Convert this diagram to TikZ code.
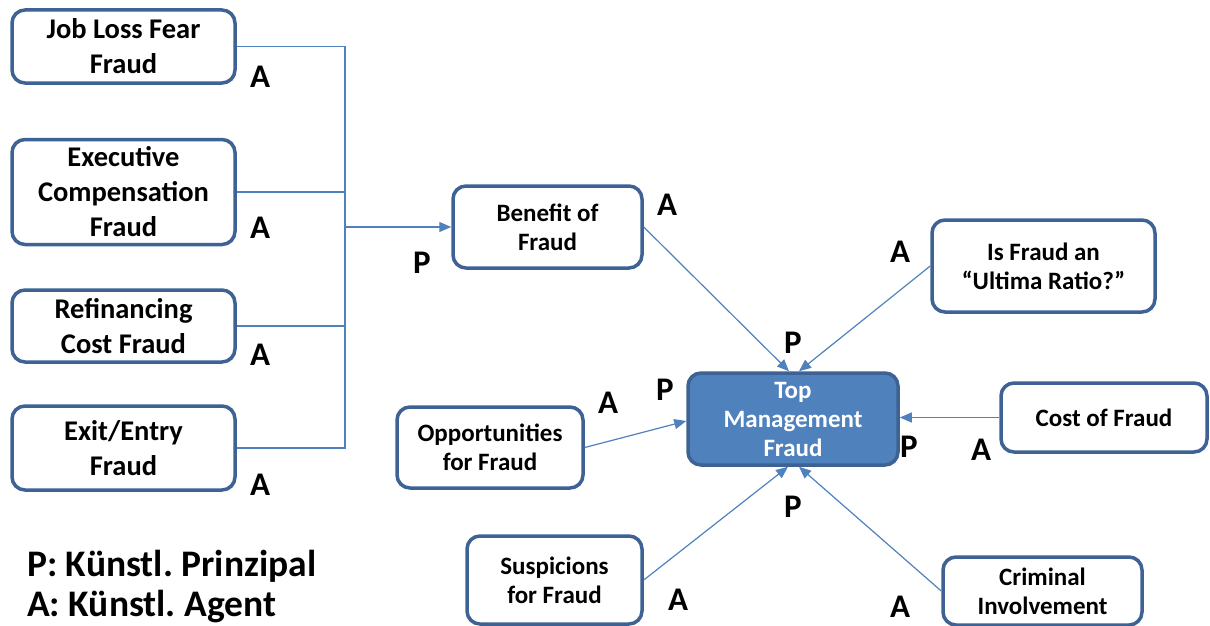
\documentclass[tikz,border=0pt]{standalone}
\usepackage{fontspec}
\setmainfont{Carlito}
\usetikzlibrary{arrows.meta,calc}
\definecolor{bordc}{HTML}{3E6293}
\definecolor{linec}{HTML}{4F81BD}
\definecolor{fillc}{HTML}{4F81BD}
\begin{document}
\frenchspacing
\begin{tikzpicture}[x=1pt,y=-1pt,
  box/.style={draw=bordc,line width=3.5pt,rounded corners=13pt,fill=white,align=center,inner sep=0pt,font=\bfseries\fontsize{25}{29}\selectfont},
  lbox/.style={box,font=\bfseries\fontsize{28.5}{35}\selectfont},
  conn/.style={draw=linec,line width=1.2pt},
  arr/.style={conn,-{Triangle[length=12pt,width=10pt]}},
  lab/.style={font=\bfseries\fontsize{33}{33}\selectfont,inner sep=0pt},
  leg/.style={font=\bfseries\fontsize{37.5}{37.5}\selectfont,inner sep=0pt,anchor=west}]
\useasboundingbox (0,0) rectangle (1210,626);
% left boxes
\node[lbox,minimum width=223pt,minimum height=73pt] (job) at (123.5,46.5) {Job Loss Fear\\Fraud};
\node[lbox,minimum width=223pt,minimum height=105pt] (exe) at (123.5,192) {Executive\\Compensation\\Fraud};
\node[lbox,minimum width=223pt,minimum height=72pt] (ref) at (123.5,326) {Refinancing\\Cost Fraud};
\node[lbox,minimum width=223pt,minimum height=84pt] (exi) at (123.5,448) {Exit/Entry\\Fraud};
% other boxes
\node[box,minimum width=189pt,minimum height=82pt] (ben) at (547.5,227) {Benefit of\\Fraud};
\node[box,minimum width=210pt,minimum height=92pt,fill=fillc,text=white] (tmf) at (793,419) {Top\\Management\\Fraud};
\node[box,minimum width=206pt,minimum height=69pt] (cost) at (1104,417.5) {Cost of Fraud};
\node[box,minimum width=223pt,minimum height=92pt] (ult) at (1043.5,266) {Is Fraud an\\“Ultima Ratio?”};
\node[box,minimum width=186pt,minimum height=81pt] (opp) at (490,447.5) {Opportunities\\for Fraud};
\node[box,minimum width=175pt,minimum height=88pt] (sus) at (554.5,580) {Suspicions\\for Fraud};
\node[box,minimum width=199pt,minimum height=68pt] (crim) at (1042.5,591) {Criminal\\Involvement};
% bus
\coordinate (bus) at (345,227);
\draw[conn] (job.east) -| (bus);
\draw[conn] (exi.east) -| (bus);
\draw[conn] (exe.east) -- (exe.east -| bus);
\draw[conn] (ref.east) -- (ref.east -| bus);
\draw[arr] (bus) -- (ben.west);
% arrows to tmf
\draw[arr] (ben.east) -- ($(tmf.north)+(-4,0)$);
\draw[arr] (ult.west) -- ($(tmf.north)+(6,0)$);
\draw[arr] (cost.west) -- (cost.west -| tmf.east);
\draw[arr] (opp.east) -- ($(tmf.west)+(0,2)$);
\draw[arr] (sus.east) -- ($(tmf.south)+(-5,0)$);
\draw[arr] (crim.west) -- ($(tmf.south)+(6,0)$);
% labels
\node[lab] (a1) at (260,77) {A};
\node[lab] (a2) at (260,228) {A};
\node[lab] (a3) at (260,355) {A};
\node[lab] (a4) at (260,485) {A};
\node[lab] (p1) at (422,263) {P};
\node[lab] (a5) at (667,205) {A};
\node[lab] (a6) at (900,252) {A};
\node[lab] (p2) at (793,343) {P};
\node[lab] (p3) at (665,390) {P};
\node[lab] (a7) at (608,403) {A};
\node[lab] (p4) at (909,447) {P};
\node[lab] (a8) at (981,450) {A};
\node[lab] (p5) at (793,507) {P};
\node[lab] (a9) at (678,600) {A};
\node[lab] (a10) at (900,607) {A};
% legend
\node[leg] (leg1) at (27,566) {P: Künstl. Prinzipal};
\node[leg] (leg2) at (27,607) {A: Künstl. Agent};
\end{tikzpicture}
\end{document}
